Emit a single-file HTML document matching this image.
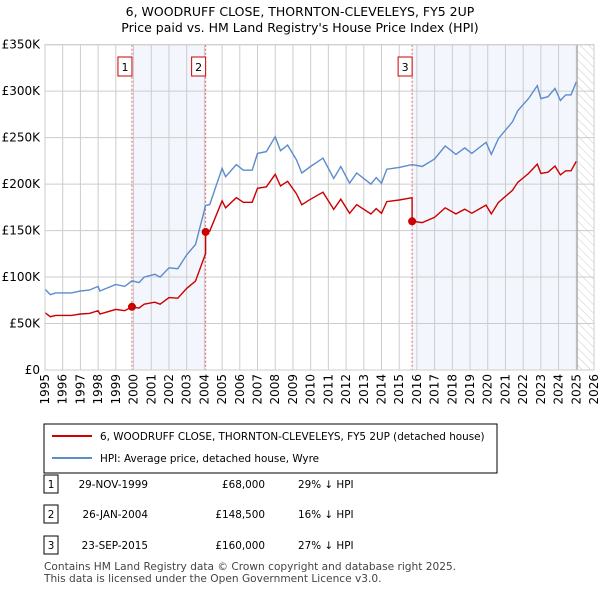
<!DOCTYPE html>
<html><head><meta charset="utf-8"><style>
body{margin:0;background:#fff;font-family:"Liberation Sans","DejaVu Sans",sans-serif;}
svg text{font-family:"DejaVu Sans","Liberation Sans",sans-serif;}
</style></head><body>
<svg id="c" width="600" height="590" xmlns="http://www.w3.org/2000/svg">
<defs><pattern id="hatch" width="6" height="6" patternUnits="userSpaceOnUse" patternTransform="rotate(-45)"><line x1="0" y1="0" x2="0" y2="6" stroke="#ccc" stroke-width="1"/></pattern></defs>
<text x="300" y="16" text-anchor="middle" font-size="12.5" fill="#000">6, WOODRUFF CLOSE, THORNTON-CLEVELEYS, FY5 2UP</text>
<text x="300" y="32" text-anchor="middle" font-size="12.5" fill="#000">Price paid vs. HM Land Registry's House Price Index (HPI)</text>
<g id="plot"></g>
<rect x="44" y="424" width="453" height="49" fill="#fff" stroke="#000" stroke-width="1"/>
<line x1="52" y1="436" x2="92" y2="436" stroke="#cc0000" stroke-width="2"/>
<text x="100" y="440" font-size="10.4">6, WOODRUFF CLOSE, THORNTON-CLEVELEYS, FY5 2UP (detached house)</text>
<line x1="52" y1="458" x2="92" y2="458" stroke="#5b8ccc" stroke-width="2"/>
<text x="100" y="462" font-size="10.4">HPI: Average price, detached house, Wyre</text>
<g id="table" font-size="10.4"></g>
<text x="44" y="570" font-size="10.6" fill="#444">Contains HM Land Registry data © Crown copyright and database right 2025.</text>
<text x="44" y="582" font-size="10.6" fill="#444">This data is licensed under the Open Government Licence v3.0.</text>
</svg>
<script>
const hpiYears=[1995.0,1995.3,1995.6,1996.5,1997.0,1997.5,1998.0,1998.1,1999.0,1999.5,1999.91,2000.3,2000.6,2001.2,2001.5,2002.0,2002.5,2003.0,2003.5,2004.07,2004.3,2005.0,2005.2,2005.8,2006.2,2006.7,2007.0,2007.5,2008.0,2008.3,2008.7,2009.2,2009.5,2010.0,2010.7,2011.3,2011.7,2012.2,2012.6,2013.4,2013.7,2014.0,2014.3,2015.0,2015.73,2016.3,2017.0,2017.6,2018.2,2018.7,2019.1,2019.9,2020.2,2020.6,2021.4,2021.7,2022.3,2022.8,2023.0,2023.4,2023.8,2024.1,2024.4,2024.7,2025.0];
const hpiValues=[87,81,83,83,85,86,90,85,92,90,96,94,100,103,100,110,109,124,135,177,178,217,208,221,215,215,233,235,251,236,242,226,212,219,228,206,219,201,212,200,207,201,216,218,221,219,227,241,232,239,233,245,232,249,267,279,292,306,292,294,303,290,296,296,310];
const saleYears=[1999.91,2004.07,2015.73];
const salePrices=[68,148.5,160];
const saleDates=["29-NOV-1999","26-JAN-2004","23-SEP-2015"];
const saleLabels=["£68,000","£148,500","£160,000"];
const saleDiffs=["29% ↓ HPI","16% ↓ HPI","27% ↓ HPI"];
const yTicks=[0,50,100,150,200,250,300,350];
const yTickLabels=["£0","£50K","£100K","£150K","£200K","£250K","£300K","£350K"];
const xTicks=[1995,1996,1997,1998,1999,2000,2001,2002,2003,2004,2005,2006,2007,2008,2009,2010,2011,2012,2013,2014,2015,2016,2017,2018,2019,2020,2021,2022,2023,2024,2025,2026];

const X0=45,X1=594,Y0=370,Y1=44.7;
const xs=y=>X0+(y-1995)/(2026-1995)*(X1-X0);
const ys=v=>Y0-v/350*(Y0-Y1);
const NS="http://www.w3.org/2000/svg";
const plot=document.getElementById('plot');
function mk(tag,at,par){const e=document.createElementNS(NS,tag);for(const k in at)e.setAttribute(k,at[k]);(par||plot).appendChild(e);return e;}
function hpiAt(t){for(let i=0;i<hpiYears.length-1;i++){if(t<=hpiYears[i+1]){const f=(t-hpiYears[i])/(hpiYears[i+1]-hpiYears[i]);return hpiValues[i]+f*(hpiValues[i+1]-hpiValues[i]);}}return hpiValues[hpiValues.length-1];}

let e;
e=mk('rect',{x:xs(saleYears[0]),y:Y1,width:xs(saleYears[1])-xs(saleYears[0]),height:Y0-Y1,fill:'#eef3fc',opacity:0.7});

e=mk('rect',{x:xs(saleYears[2]),y:Y1,width:xs(2025.05)-xs(saleYears[2]),height:Y0-Y1,fill:'#eef3fc',opacity:0.7});

e=mk('rect',{x:xs(2025.05),y:Y1,width:X1-xs(2025.05),height:Y0-Y1,fill:'url(#hatch)'});

yTicks.forEach((v,i)=>{
 e=mk('line',{x1:X0,x2:X1,y1:ys(v),y2:ys(v),stroke:'#ccc','stroke-width':1});
 
 e=mk('text',{x:40,y:ys(v)+4,'text-anchor':'end','font-size':12});e.textContent=yTickLabels[i];
 
});
xTicks.forEach(t=>{
 e=mk('line',{x1:xs(t),x2:xs(t),y1:Y1,y2:Y0,stroke:'#ccc','stroke-width':1});
 
 e=mk('text',{x:0,y:0,'text-anchor':'end','font-size':12,transform:`translate(${xs(t)+4},${Y0+4}) rotate(-90)`});e.textContent=t;
 
});
e=mk('line',{x1:xs(2025.05),x2:xs(2025.05),y1:Y1,y2:Y0,stroke:'#999','stroke-width':1});

saleYears.forEach((t,i)=>{
 e=mk('line',{x1:xs(t),x2:xs(t),y1:Y1,y2:Y0,stroke:'#e06060','stroke-width':1,'stroke-dasharray':'2,2'});
 
 e=mk('rect',{x:xs(t)-14,y:57,width:14,height:19,fill:'#fff',stroke:'#cc0000'});
 
 e=mk('text',{x:xs(t)-7,y:71,'text-anchor':'middle','font-size':11});e.textContent=i+1;
 
});
let d=hpiYears.map((t,i)=>(i?'L':'M')+xs(t).toFixed(1)+','+ys(hpiValues[i]).toFixed(1)).join('');
e=mk('path',{d:d,fill:'none',stroke:'#5b8ccc','stroke-width':1.4});

function seg(t){let k=0;for(let j=0;j<saleYears.length;j++)if(t>=saleYears[j])k=j;return k;}
let pts=[];
hpiYears.forEach((t,i)=>{
 const k=seg(t);
 if(saleYears.includes(t)&&k>0){const pk=k-1;pts.push([t,salePrices[pk]*hpiAt(t)/hpiAt(saleYears[pk])]);}
 pts.push([t,salePrices[k]*hpiValues[i]/hpiAt(saleYears[k])]);
});
d=pts.map((p,i)=>(i?'L':'M')+xs(p[0]).toFixed(1)+','+ys(p[1]).toFixed(1)).join('');
e=mk('path',{d:d,fill:'none',stroke:'#cc0000','stroke-width':1.4});

saleYears.forEach((t,i)=>{
 e=mk('circle',{cx:xs(t),cy:ys(salePrices[i]),r:4,fill:'#cc0000'});
 
});
e=mk('rect',{x:X0,y:Y1,width:X1-X0,height:Y0-Y1,fill:'none',stroke:'#ccc'});

const tb=document.getElementById('table');
[485,515,546].forEach((y,i)=>{
 e=mk('rect',{x:44,y:y-10,width:14,height:18,fill:'#fff',stroke:'#000'},tb);
 
 e=mk('text',{x:51,y:y+3,'text-anchor':'middle'},tb);e.textContent=i+1;
 
 e=mk('text',{x:148,y:y+3,'text-anchor':'end'},tb);e.textContent=saleDates[i];
 
 e=mk('text',{x:265,y:y+3,'text-anchor':'end'},tb);e.textContent=saleLabels[i];
 
 e=mk('text',{x:298,y:y+3},tb);e.textContent=saleDiffs[i];
 
});
</script>
</body></html>
